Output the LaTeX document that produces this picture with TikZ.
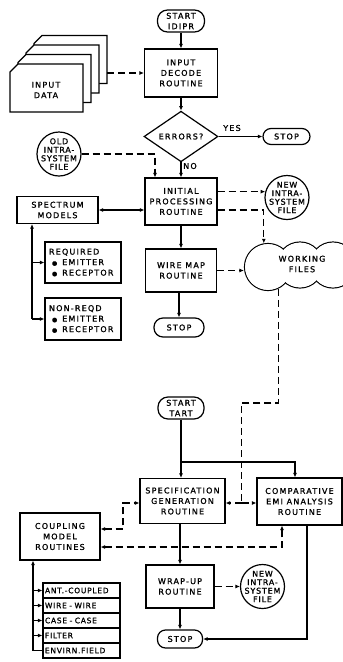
\documentclass[tikz,border=0pt]{standalone}
\usepackage{fontspec}
\newfontfamily\lbl[LetterSpace=15,FakeBold=1.2]{DejaVu Sans}
\newfontfamily\lbls[LetterSpace=10,FakeBold=1.2]{DejaVu Sans}
\usetikzlibrary{arrows.meta,shapes.geometric}
\begin{document}
\begin{tikzpicture}[x=1pt,y=-1pt,
  >={Latex[length=4.5pt,width=4pt]},
  txt/.style={font=\lbl\fontsize{8}{10.5}\selectfont},
  box/.style={draw, line width=1.2pt, rectangle, align=center, inner sep=1pt, txt},
  term/.style={draw, line width=1.2pt, rounded corners=8pt, align=center, inner sep=1pt, txt},
  file/.style={draw, line width=1.2pt, circle, inner sep=0pt, minimum size=44pt},
  ctxt/.style={align=center, inner sep=0pt, font=\lbls\fontsize{8}{8.5}\selectfont},
  lst/.style={draw, line width=1.1pt, minimum width=77pt, minimum height=15pt, text width=73pt, inner xsep=2pt, inner ysep=0pt, align=left, font=\lbls\fontsize{7.5}{9}\selectfont},
  conn/.style={line width=1.1pt},
  flow/.style={line width=1.1pt, ->},
  dline/.style={line width=1.1pt, dash pattern=on 7pt off 4pt},
  dflow/.style={dline, ->},
]
\fill[white] (0,0) rectangle (343,662);
\useasboundingbox (0,0) rectangle (343,662);

% input data card stack
\foreach \i in {3,2,1,0}{
  \filldraw[fill=white, line width=1.2pt]
    ({10+8*\i},{72-9.5*\i}) -- ({18+8*\i},{64-9.5*\i}) -- ({83+8*\i},{64-9.5*\i})
    -- ({83+8*\i},{112-9.5*\i}) -- ({10+8*\i},{112-9.5*\i}) -- cycle;
}
\node[txt, align=center] (data) at (46,90) {INPUT\\DATA};
\coordinate (stackR) at (107,73);

% top column
\node[term, minimum width=47pt, minimum height=22pt, rounded corners=10pt] (startA) at (181,21) {START\\IDIPR};
\node[box, minimum width=73pt, minimum height=48pt] (decode) at (181,73) {INPUT\\DECODE\\ROUTINE};
\node[draw, line width=1.2pt, diamond, minimum width=74pt, minimum height=43pt, inner sep=0pt, txt] (err) at (181,136.5) {ERRORS?};
\node[term, minimum width=47pt, minimum height=16pt] (stopA) at (286.5,136.5) {STOP};
\node[file] (old) at (59,154) {};
\node[ctxt] (oldt) at (old) {OLD\\INTRA-\\SYSTEM\\FILE};
\node[box, minimum width=72pt, minimum height=47pt] (init) at (181,201.5) {INITIAL\\PROCESSING\\ROUTINE};
\node[file] (newA) at (287,197.5) {};
\node[ctxt] (newAt) at (newA) {NEW\\INTRA-\\SYSTEM\\FILE};
\node[box, minimum width=81pt, minimum height=27pt] (spec) at (57.5,210) {SPECTRUM\\MODELS};
\node[box, minimum width=76pt, minimum height=41pt, align=left, text width=68pt] (req) at (83,262.5)
  {REQUIRED\\\hspace*{3pt}{\fontsize{6}{6}\selectfont ●}\hspace{5pt}EMITTER\\\hspace*{3pt}{\fontsize{6}{6}\selectfont ●}\hspace{5pt}RECEPTOR};
\node[box, minimum width=76pt, minimum height=42pt, align=left, text width=68pt] (nonreq) at (83,319)
  {NON-REQD\\\hspace*{3pt}{\fontsize{6}{6}\selectfont ●}\hspace{5pt}EMITTER\\\hspace*{3pt}{\fontsize{6}{6}\selectfont ●}\hspace{5pt}RECEPTOR};
\node[box, minimum width=71pt, minimum height=43pt] (wire) at (181,270.5) {WIRE MAP\\ROUTINE};
\node[term, minimum width=50pt, minimum height=19pt, rounded corners=9pt] (stopB) at (179,327.5) {STOP};

% working files cloud
\node[file, minimum size=46pt] (wf3) at (333,265) {};
\node[file, minimum size=46pt] (wf2) at (300,265) {};
\node[file, minimum size=47pt] (wf1) at (268,267) {};
\fill[white] (wf3) circle (22.4pt);
\fill[white] (wf2) circle (22.4pt);
\fill[white] (wf1) circle (22.9pt);
\node[txt, align=center] (wft) at (302,264) {WORKING\\FILES};

% lower part
\node[term, minimum width=46pt, minimum height=22pt, rounded corners=10pt] (startB) at (181,408) {START\\TART};
\node[box, minimum width=85pt, minimum height=45pt] (sgen) at (182.5,501) {SPECIFICATION\\GENERATION\\ROUTINE};
\node[box, minimum width=85pt, minimum height=47pt] (comp) at (299.5,501.5) {COMPARATIVE\\EMI ANALYSIS\\ROUTINE};
\node[box, minimum width=80pt, minimum height=47pt] (coup) at (60,536.5) {COUPLING\\MODEL\\ROUTINES};
\node[box, minimum width=68pt, minimum height=43pt] (wrap) at (180,586.5) {WRAP-UP\\ROUTINE};
\node[file] (newB) at (262.5,586.5) {};
\node[ctxt] (newBt) at (newB) {NEW\\INTRA-\\SYSTEM\\FILE};
\node[term, minimum width=45pt, minimum height=18pt] (stopC) at (180,639) {STOP};
\node[lst] (m1) at (81.5,590.5) {ANT.-COUPLED};
\node[lst] (m2) at (81.5,605.5) {WIRE - WIRE};
\node[lst] (m3) at (81.5,620.5) {CASE - CASE};
\node[lst] (m4) at (81.5,635.5) {FILTER};
\node[lst] (m5) at (81.5,650.5) {ENVIRN.FIELD};

% connectors, top
\draw[dflow] (stackR) -- (decode.west);
\draw[flow] (startA.south) -- (decode.north);
\draw[flow] (decode.south) -- (err.north);
\draw[flow] (err.east) -- (stopA.west);
\node[txt] (yes) at (232,128) {YES};
\draw[flow] (err.south) -- (init.north);
\node[txt] (no) at (190,166) {NO};
\draw[dflow] (old.east) -| ([xshift=-26pt]init.north);
\draw[flow, <->] (spec.east) -- (spec.east -| init.west);
\draw[dflow] (init.east |- newA.165) -- (newA.165);
\draw[dflow] ([yshift=-8.5pt]init.east) -| (wf1.100);
\draw[flow] (init.south) -- (wire.north);
\draw[dflow] (wire.east) -- (wire.east -| wf1.west);
\draw[flow] (wire.south -| stopB.north) -- (stopB.north);
\coordinate (sbus) at (32,319);
\draw[flow] (sbus) -- (sbus |- spec.south);
\draw[flow] (sbus) -- (nonreq.west);
\draw[flow] (sbus |- req.west) -- (req.west);

% connectors, bottom
\coordinate (jn) at (241.5,503);
\draw[dline] (wf1.295) -- (wf1.295 |- 0,403) -| (jn);
\draw[dflow] (jn) -- (jn -| sgen.east);
\draw[dflow] (jn) -- (jn -| comp.west);
\coordinate (sp) at (181,462);
\draw[conn] (startB.south) -- (sp);
\draw[flow] (sp) -| ([xshift=-4.5pt]comp.north);
\draw[flow] (sp) -- (sp |- sgen.north);
\coordinate (sc) at (123,503);
\draw[dline, <->] ([yshift=7.5pt]coup.east) -| (sc) -- (sc -| sgen.west);
\draw[dline, <->] ([yshift=-10.5pt]coup.east) -| ([xshift=-17.5pt]comp.south);
\draw[flow] (sgen.south -| wrap.north) -- (wrap.north);
\draw[dflow] (wrap.east) -- (newB.west);
\draw[flow] (wrap.south) -- (stopC.north);
\draw[flow] ([xshift=7.5pt]comp.south) |- (stopC.east);
\coordinate (cbus) at (33,650.5);
\draw[flow] (cbus) -- (cbus |- coup.south);
\foreach \m in {m1,m2,m3,m4}{\draw[flow] (cbus |- \m.west) -- (\m.west);}
\draw[conn] (cbus) -- (m5.west);
\end{tikzpicture}
\end{document}
